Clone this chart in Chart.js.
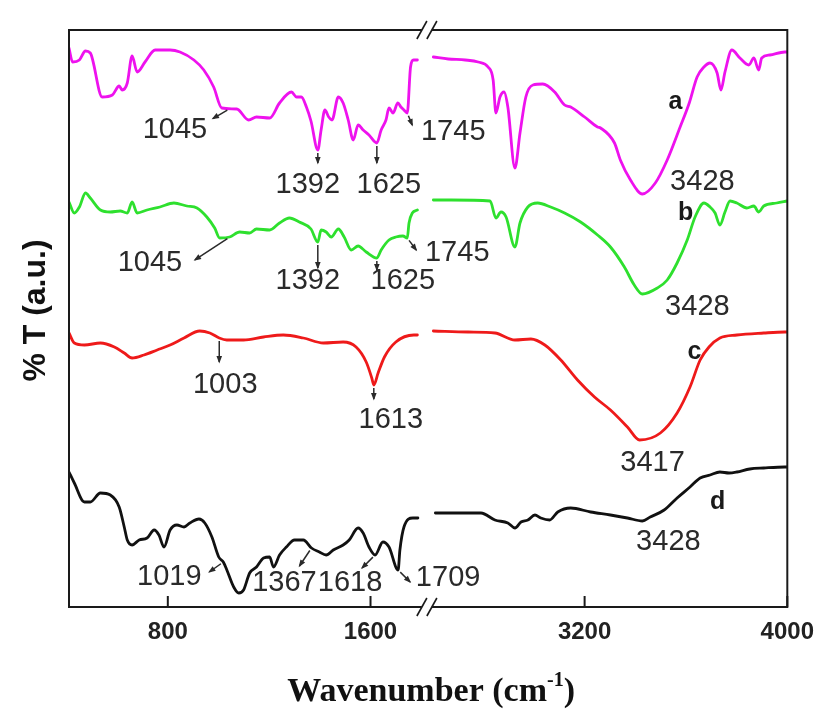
<!DOCTYPE html>
<html>
<head>
<meta charset="utf-8">
<title>FTIR spectra a-d</title>
<script src="https://cdn.jsdelivr.net/npm/chart.js@4.4.1/dist/chart.umd.min.js"></script>
<style>
  html, body { margin: 0; padding: 0; background: #fff; }
  #wrap { width: 825px; height: 713px; position: relative; }
</style>
</head>
<body>
<div id="wrap"><canvas id="ftir"></canvas></div>
<script>
// Spectra as [wavenumber (cm-1), %T (a.u., curves offset for display)]
// Each curve is split at the axis break: "low" = fingerprint region, "high" = 2600-4000.
const specA_low = [
  [410, 55.9], [424, 54.5], [451, 54.7], [475, 55.6], [494, 55.4], [541, 51.0], [581, 51.2],
  [608, 52.1], [620, 51.7], [640, 52.4], [659, 55.1], [679, 53.5], [710, 54.5], [750, 55.7],
  [809, 55.7], [848, 55.5], [903, 54.7], [942, 53.7], [981, 52.0], [1013, 49.9], [1072, 49.8],
  [1119, 48.7], [1150, 49.0], [1202, 48.9], [1241, 50.4], [1288, 51.5], [1308, 51.0],
  [1327, 51.0], [1347, 50.0], [1365, 48.6], [1392, 45.7], [1405, 47.7], [1420, 49.7],
  [1435, 49.0], [1448, 48.7], [1473, 51.0], [1492, 50.4], [1512, 48.7], [1532, 46.7],
  [1551, 48.2], [1571, 47.7], [1594, 47.2], [1625, 46.4], [1642, 47.7], [1661, 48.7],
  [1673, 49.9], [1689, 49.4], [1708, 50.4], [1720, 50.0], [1732, 49.7], [1745, 49.4],
  [1758, 54.0], [1770, 54.7], [1785, 54.7]
];
const specA_high = [
  [2603, 55.0], [2662, 54.8], [2729, 54.7], [2780, 54.5], [2819, 54.0], [2839, 52.7],
  [2850, 49.4], [2866, 51.0], [2882, 51.5], [2897, 50.0], [2925, 43.9], [2945, 47.4],
  [2968, 51.0], [2996, 52.2], [3035, 52.3], [3082, 51.5], [3121, 50.2], [3145, 50.0],
  [3200, 49.0], [3251, 48.0], [3263, 47.9], [3318, 46.4], [3341, 44.7], [3381, 42.7],
  [3428, 41.3], [3479, 42.4], [3526, 44.7], [3577, 48.0], [3613, 50.4], [3644, 53.0],
  [3671, 54.0], [3695, 54.4], [3723, 53.4], [3738, 51.7], [3754, 53.5], [3781, 55.7],
  [3813, 54.9], [3848, 54.2], [3868, 54.9], [3887, 53.7], [3899, 54.9], [3931, 55.2],
  [3990, 55.5], [4000, 55.5]
];

const specB_low = [
  [410, 40.5], [431, 39.4], [451, 40.0], [475, 41.4], [494, 40.9], [534, 39.7], [573, 39.5],
  [612, 39.6], [640, 39.4], [659, 40.5], [679, 39.4], [718, 39.7], [769, 40.0], [824, 40.4],
  [875, 40.1], [915, 39.9], [954, 39.0], [985, 37.9], [1005, 36.9], [1044, 37.0], [1084, 37.5],
  [1123, 37.4], [1150, 37.8], [1202, 37.7], [1241, 38.4], [1280, 38.9], [1319, 38.5],
  [1365, 37.8], [1392, 36.5], [1405, 37.7], [1425, 37.5], [1445, 37.0], [1473, 37.8],
  [1496, 37.0], [1524, 35.7], [1551, 36.1], [1583, 35.5], [1625, 34.9], [1642, 35.7],
  [1673, 36.7], [1700, 37.0], [1728, 37.1], [1745, 36.9], [1752, 38.4], [1765, 39.4],
  [1785, 39.7]
];
const specB_high = [
  [2603, 40.7], [2674, 40.7], [2827, 40.6], [2850, 38.9], [2870, 39.5], [2890, 39.0],
  [2925, 36.0], [2945, 38.4], [2976, 40.0], [3015, 40.4], [3066, 40.0], [3121, 39.4],
  [3184, 38.5], [3251, 37.2], [3302, 36.0], [3357, 34.0], [3396, 32.2], [3428, 31.3],
  [3487, 31.9], [3526, 32.7], [3565, 34.4], [3605, 36.7], [3636, 39.0], [3671, 40.4],
  [3695, 40.0], [3715, 39.4], [3734, 38.2], [3754, 39.5], [3774, 40.6], [3801, 40.4],
  [3840, 39.9], [3868, 40.1], [3887, 39.5], [3907, 40.1], [3958, 40.4], [4000, 40.6]
];

const specC_low = [
  [410, 27.4], [431, 26.4], [471, 26.2], [534, 26.4], [589, 26.0], [628, 25.4], [659, 24.9],
  [706, 25.2], [758, 25.7], [809, 26.2], [864, 26.9], [926, 27.6], [966, 27.4], [1003, 26.9],
  [1033, 26.7], [1099, 26.7], [1178, 27.0], [1256, 27.2], [1335, 26.9], [1414, 26.4],
  [1492, 26.5], [1543, 26.0], [1583, 24.5], [1605, 22.9], [1613, 22.2], [1630, 23.4],
  [1655, 25.0], [1700, 26.5], [1771, 27.2], [1785, 27.2]
];
const specC_high = [
  [2603, 27.6], [2740, 27.5], [2846, 27.4], [2925, 26.7], [2988, 26.8], [3043, 26.2],
  [3106, 24.7], [3172, 22.7], [3239, 21.0], [3302, 19.7], [3369, 18.0], [3417, 16.7],
  [3499, 17.4], [3565, 19.4], [3616, 22.0], [3656, 24.7], [3691, 26.0], [3734, 26.9],
  [3801, 27.2], [3907, 27.4], [3990, 27.5], [4000, 27.5]
];

const specD_low = [
  [410, 13.5], [431, 12.4], [471, 10.5], [494, 10.5], [534, 11.4], [573, 11.2], [608, 10.0],
  [628, 8.0], [640, 6.7], [659, 6.2], [687, 6.7], [718, 6.9], [746, 7.7], [765, 7.2],
  [785, 6.0], [809, 7.7], [836, 8.2], [864, 8.0], [887, 8.4], [923, 8.8], [946, 8.4],
  [974, 7.0], [1001, 5.0], [1019, 4.5], [1033, 3.7], [1060, 2.0], [1080, 1.4], [1099, 1.7],
  [1123, 3.4], [1150, 4.0], [1178, 4.9], [1202, 5.0], [1217, 4.0], [1241, 5.2], [1268, 6.0],
  [1300, 6.7], [1335, 6.7], [1367, 5.9], [1398, 5.5], [1425, 5.2], [1453, 5.7], [1492, 6.2],
  [1516, 6.7], [1551, 7.9], [1571, 7.4], [1594, 6.0], [1618, 5.2], [1649, 6.5], [1673, 6.0],
  [1709, 3.7], [1716, 5.7], [1732, 8.0], [1767, 8.9], [1787, 8.9]
];
const specD_high = [
  [2611, 9.4], [2701, 9.4], [2791, 9.4], [2846, 8.7], [2897, 8.4], [2925, 7.9], [2949, 8.5],
  [2976, 8.7], [3004, 9.2], [3027, 8.9], [3062, 8.7], [3094, 9.5], [3145, 9.9], [3224, 9.5],
  [3302, 9.2], [3369, 8.9], [3428, 8.6], [3459, 9.0], [3514, 9.7], [3565, 10.9], [3616, 12.0],
  [3656, 12.9], [3695, 13.2], [3734, 13.5], [3770, 13.4], [3801, 13.5], [3852, 13.8],
  [3907, 13.9], [3990, 14.0], [4000, 14.0]
];

// Band positions marked on each spectrum (cm-1)
const peaksA = [1045, 1392, 1625, 1745, 3428];
const peaksB = [1045, 1392, 1625, 1745, 3428];
const peaksC = [1003, 1613, 3417];
const peaksD = [1019, 1367, 1618, 1709, 3428];

const xTicks = [800, 1600, 3200, 4000];

// --- broken wavenumber axis -------------------------------------------------
const BREAK_LOW = 1800, BREAK_HIGH = 2600, BREAK_GAP = 45;
function toAxis(wn) {
  return wn <= BREAK_LOW ? wn : wn - BREAK_HIGH + BREAK_LOW + BREAK_GAP;
}

function valueAt(seg, wn) {
  for (let i = 1; i < seg.length; i++) {
    const [x0, y0] = seg[i - 1], [x1, y1] = seg[i];
    if (wn >= x0 && wn <= x1) return y0 + (y1 - y0) * (wn - x0) / (x1 - x0);
  }
  return seg[seg.length - 1][1];
}

const SANS = "'Liberation Sans', Arial, sans-serif";
const SERIF = "'Liberation Serif', 'Times New Roman', serif";

const curves = [
  { key: 'a', color: '#ee12ee', segs: [specA_low, specA_high], peaks: peaksA },
  { key: 'b', color: '#2ee02e', segs: [specB_low, specB_high], peaks: peaksB },
  { key: 'c', color: '#ee1a1a', segs: [specC_low, specC_high], peaks: peaksC },
  { key: 'd', color: '#111111', segs: [specD_low, specD_high], peaks: peaksD }
];

// label placement per band: [arrow dx, arrow dy, text dx, text dy] in px from the band point
const labelLayout = {
  a: [[-17, 10, -55, 21], [0, 13, -10, 35], [0, 20, 12, 42], [5, 12, 46, 19], [null, null, 60, -12]],
  b: [[-35, 23, -80, 26], [0, 26, -10, 39], [0, 12, 26, 23], [9, 12, 50, 15], [null, null, 55, 13]],
  c: [[0, 24, 6, 47], [0, 14, 17, 35], [null, null, 13, 23]],
  d: [[-14, 10, -54, 15], [-12, 18, -27, 35], [-13, 13, -25, 28], [12, 12, 50, 8], [null, null, 26, 21]]
};
// curve tags placed at [wavenumber, %T]
const curveTags = { a: [3559, 50.5], b: [3599, 39.4], c: [3634, 25.5], d: [3725, 10.5] };

const datasets = [];
curves.forEach(c => {
  c.segs.forEach(seg => {
    datasets.push({
      data: seg.map(([wn, t]) => ({ x: toAxis(wn), y: t })),
      borderColor: c.color,
      borderWidth: 2.8,
      pointRadius: 0,
      cubicInterpolationMode: 'monotone',
      borderJoinStyle: 'round',
      borderCapStyle: 'round',
      fill: false
    });
  });
});

function drawArrow(ctx, x0, y0, x1, y1) {
  const ang = Math.atan2(y1 - y0, x1 - x0);
  const sx = x0 + 3 * Math.cos(ang), sy = y0 + 3 * Math.sin(ang);
  ctx.beginPath();
  ctx.moveTo(sx, sy);
  ctx.lineTo(x1, y1);
  ctx.stroke();
  const L = 6, W = 2.8;
  ctx.beginPath();
  ctx.moveTo(x1 + 1.5 * Math.cos(ang), y1 + 1.5 * Math.sin(ang));
  ctx.lineTo(x1 - L * Math.cos(ang) + W * Math.sin(ang), y1 - L * Math.sin(ang) - W * Math.cos(ang));
  ctx.lineTo(x1 - L * Math.cos(ang) - W * Math.sin(ang), y1 - L * Math.sin(ang) + W * Math.cos(ang));
  ctx.closePath();
  ctx.fill();
}

// frame, axis break, inward ticks, band labels and axis titles
const decorations = {
  id: 'decorations',
  afterDraw(chart) {
    const { ctx, chartArea: area, scales: { x, y } } = chart;
    ctx.save();

    // band annotations
    ctx.strokeStyle = '#2a2a2a';
    ctx.fillStyle = '#2a2a2a';
    ctx.lineWidth = 1.5;
    ctx.font = '29px ' + SANS;
    ctx.textAlign = 'center';
    ctx.textBaseline = 'middle';
    curves.forEach(c => {
      c.peaks.forEach((wn, i) => {
        const seg = wn <= BREAK_LOW ? c.segs[0] : c.segs[1];
        const px = x.getPixelForValue(toAxis(wn));
        const py = y.getPixelForValue(valueAt(seg, wn));
        const [ax, ay, tx, ty] = labelLayout[c.key][i];
        if (ax !== null) drawArrow(ctx, px, py, px + ax, py + ay);
        ctx.fillStyle = '#2a2a2a';
        ctx.fillText(String(wn), px + tx, py + ty);
      });
    });

    // curve tags
    ctx.font = 'bold 25px ' + SANS;
    ctx.fillStyle = '#1a1a1a';
    Object.keys(curveTags).forEach(k => {
      const [wn, t] = curveTags[k];
      ctx.fillText(k, x.getPixelForValue(toAxis(wn)), y.getPixelForValue(t));
    });

    // frame
    ctx.strokeStyle = '#1a1a1a';
    ctx.lineWidth = 2;
    ctx.strokeRect(area.left, area.top, area.right - area.left, area.bottom - area.top);

    // inward tick marks
    xTicks.forEach(v => {
      const px = x.getPixelForValue(toAxis(v));
      ctx.beginPath();
      ctx.moveTo(px, area.bottom);
      ctx.lineTo(px, area.bottom - 11);
      ctx.stroke();
    });

    // axis break marks on top and bottom edges
    const bx = (x.getPixelForValue(BREAK_LOW) + x.getPixelForValue(BREAK_LOW + BREAK_GAP)) / 2;
    [area.top, area.bottom].forEach(edge => {
      ctx.fillStyle = '#fff';
      ctx.fillRect(bx - 5, edge - 3, 10, 6);
      ctx.lineWidth = 1.6;
      [-5, 5].forEach(off => {
        ctx.beginPath();
        ctx.moveTo(bx + off - 5, edge + 9);
        ctx.lineTo(bx + off + 5, edge - 9);
        ctx.stroke();
      });
    });

    // y title
    ctx.fillStyle = '#111';
    ctx.font = 'bold 32px ' + SANS;
    ctx.save();
    ctx.translate(36, (area.top + area.bottom) / 2 - 8);
    ctx.rotate(-Math.PI / 2);
    ctx.fillText('% T (a.u.)', 0, 0);
    ctx.restore();

    // x title with superscript
    const cx = (area.left + area.right) / 2 + 3, cy = 692;
    const main = 'Wavenumber (cm', sup = '-1', tail = ')';
    ctx.font = 'bold 34px ' + SERIF;
    const wMain = ctx.measureText(main).width, wTail = ctx.measureText(tail).width;
    ctx.font = 'bold 20px ' + SERIF;
    const wSup = ctx.measureText(sup).width;
    let sx = cx - (wMain + wSup + wTail) / 2;
    ctx.textAlign = 'left';
    ctx.font = 'bold 34px ' + SERIF;
    ctx.fillText(main, sx, cy);
    sx += wMain;
    ctx.font = 'bold 20px ' + SERIF;
    ctx.fillText(sup, sx, cy - 11);
    sx += wSup;
    ctx.font = 'bold 34px ' + SERIF;
    ctx.fillText(tail, sx, cy);

    ctx.restore();
  }
};

new Chart(document.getElementById('ftir'), {
  type: 'line',
  data: { datasets },
  options: {
    responsive: true,
    maintainAspectRatio: false,
    animation: false,
    layout: { padding: { top: 30, right: 35, left: 0, bottom: 0 } },
    plugins: { legend: { display: false }, tooltip: { enabled: false } },
    scales: {
      x: {
        type: 'linear',
        min: 410,
        max: toAxis(4000),
        grid: { display: false, drawTicks: false },
        border: { display: false },
        afterBuildTicks: s => { s.ticks = xTicks.map(v => ({ value: toAxis(v) })); },
        ticks: {
          autoSkip: false,
          maxRotation: 0,
          padding: 11,
          color: '#222',
          font: { family: SANS, size: 24, weight: 'bold' },
          callback: (v, i) => String(xTicks[i])
        },
        afterFit: s => { s.height = 106; }
      },
      y: {
        min: 0,
        max: 57.7,
        grid: { display: false, drawTicks: false },
        border: { display: false },
        ticks: { display: false },
        afterFit: s => { s.width = 69; }
      }
    }
  },
  plugins: [decorations]
});
</script>
</body>
</html>
